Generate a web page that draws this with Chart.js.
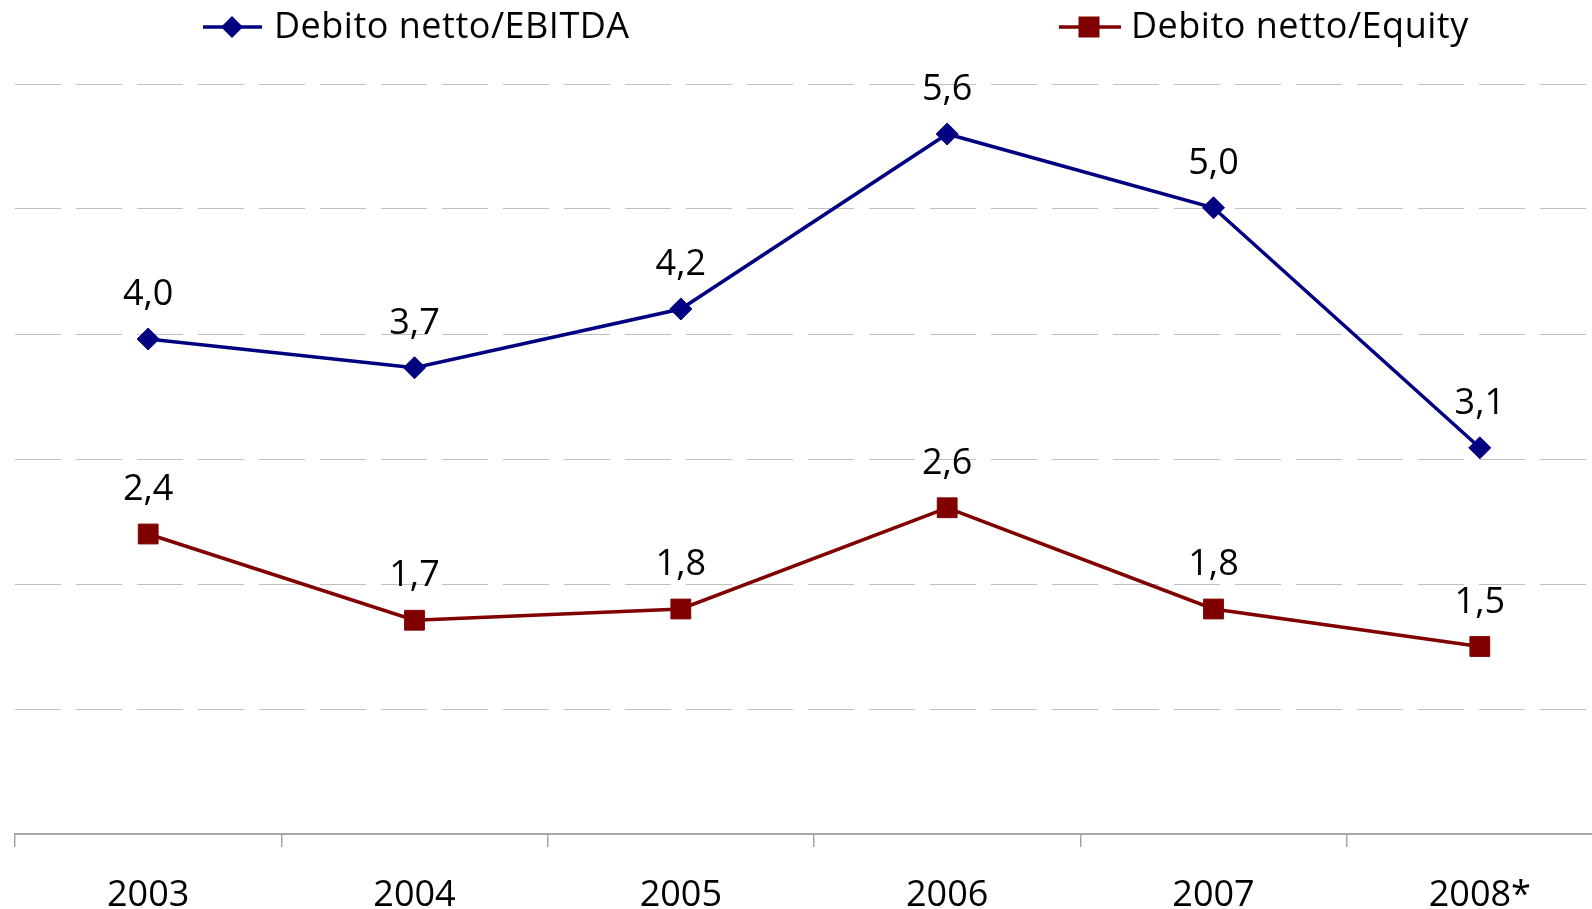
<!DOCTYPE html>
<html>
<head>
<meta charset="utf-8">
<script src="https://cdn.jsdelivr.net/npm/chart.js@4.4.0/dist/chart.umd.min.js"></script>
<style>
  html, body { margin: 0; padding: 0; background: #fff; overflow: hidden; }
  #wrap { width: 1660px; height: 909px; overflow: hidden; position: relative; }
  canvas { display: block; width: 1628px; height: 909px; }
</style>
</head>
<body>
<div id="wrap"><canvas id="c" width="1628" height="909"></canvas></div>
<script>
const categories = ['2003', '2004', '2005', '2006', '2007', '2008*'];
const ebitdaValues = [3.96, 3.73, 4.2, 5.6, 5.01, 3.09];
const equityValues = [2.4, 1.71, 1.8, 2.61, 1.8, 1.5];
const seriesNames = ['Debito netto/EBITDA', 'Debito netto/Equity'];
const yTicks = [0, 1, 2, 3, 4, 5, 6];

const FONT = '"Open Sans", "Noto Sans", sans-serif';
const BLUE = '#000080';
const RED = '#800000';

const fmt = v => v.toFixed(1).replace('.', ',');

const dataLabels = {
  id: 'dataLabels',
  afterDatasetsDraw(chart) {
    const ctx = chart.ctx;
    ctx.save();
    ctx.font = '36px ' + FONT;
    ctx.fillStyle = '#000';
    ctx.textAlign = 'center';
    ctx.textBaseline = 'alphabetic';
    chart.data.datasets.forEach((ds, i) => {
      const meta = chart.getDatasetMeta(i);
      meta.data.forEach((el, j) => {
        ctx.fillText(fmt(ds.data[j]), el.x, el.y - 34);
      });
    });
    ctx.restore();
  }
};

const customLegend = {
  id: 'customLegend',
  afterDraw(chart) {
    const ctx = chart.ctx;
    const items = [
      { x0: 203, x1: 262, mx: 232, tx: 274, color: BLUE, shape: 'diamond', text: seriesNames[0] },
      { x0: 1059, x1: 1121, mx: 1089, tx: 1131, color: RED, shape: 'square', text: seriesNames[1] }
    ];
    const y = 27;
    ctx.save();
    items.forEach(it => {
      ctx.strokeStyle = it.color;
      ctx.lineWidth = 3.5;
      ctx.beginPath();
      ctx.moveTo(it.x0, y);
      ctx.lineTo(it.x1, y);
      ctx.stroke();
      ctx.fillStyle = it.color;
      ctx.beginPath();
      if (it.shape === 'diamond') {
        const r = 11;
        ctx.moveTo(it.mx - r, y);
        ctx.lineTo(it.mx, y - r);
        ctx.lineTo(it.mx + r, y);
        ctx.lineTo(it.mx, y + r);
        ctx.closePath();
      } else {
        const h = 10.5;
        ctx.rect(it.mx - h, y - h, 2 * h, 2 * h);
      }
      ctx.fill();
      ctx.fillStyle = '#000';
      ctx.font = '36px ' + FONT;
      ctx.textAlign = 'left';
      ctx.textBaseline = 'middle';
      try { ctx.letterSpacing = '0.5px'; } catch (e) {}
      ctx.fillText(it.text, it.tx, y + 1);
      try { ctx.letterSpacing = '0px'; } catch (e) {}
    });
    ctx.restore();
  }
};

function build() {
  new Chart(document.getElementById('c'), {
    type: 'line',
    data: {
      labels: categories,
      datasets: [
        {
          label: seriesNames[0],
          data: ebitdaValues,
          borderColor: BLUE,
          backgroundColor: BLUE,
          borderWidth: 3.5,
          pointStyle: 'rectRot',
          pointRadius: 11,
          pointBorderWidth: 1,
          pointBackgroundColor: BLUE,
          pointBorderColor: BLUE,
          tension: 0,
          fill: false
        },
        {
          label: seriesNames[1],
          data: equityValues,
          borderColor: RED,
          backgroundColor: RED,
          borderWidth: 3.5,
          pointStyle: 'rect',
          pointRadius: 14,
          pointBorderWidth: 1,
          pointBackgroundColor: RED,
          pointBorderColor: RED,
          tension: 0,
          fill: false
        }
      ]
    },
    options: {
      responsive: false,
      maintainAspectRatio: false,
      animation: false,
      devicePixelRatio: 1,
      layout: { padding: { top: 84, left: 8, right: 0, bottom: 0 } },
      plugins: {
        legend: { display: false },
        tooltip: { enabled: false }
      },
      scales: {
        x: {
          type: 'category',
          offset: true,
          afterFit(scale) { scale.height = 75; },
          grid: {
            display: true,
            offset: true,
            drawOnChartArea: false,
            drawTicks: true,
            tickLength: 13,
            color: '#a6a6a6',
            lineWidth: 1.5
          },
          border: { display: true, color: '#a6a6a6', width: 2 },
          ticks: {
            color: '#000',
            font: { family: FONT, size: 36 },
            padding: 27,
            maxRotation: 0,
            autoSkip: false
          }
        },
        y: {
          min: 0,
          max: 6,
          afterFit(scale) { scale.width = 0; },
          afterBuildTicks(scale) { scale.ticks = yTicks.map(v => ({ value: v })); },
          ticks: { display: false },
          grid: {
            drawTicks: false,
            color: c => (c.tick && c.tick.value === 0) ? 'rgba(0,0,0,0)' : '#c0c0c0',
            lineWidth: 1
          },
          border: { display: false, dash: [46, 15] }
        }
      }
    },
    plugins: [dataLabels, customLegend]
  });
}

if (document.fonts && document.fonts.load) {
  Promise.all([
    document.fonts.load('36px "Open Sans"')
  ]).then(build, build);
} else {
  build();
}
</script>
</body>
</html>
